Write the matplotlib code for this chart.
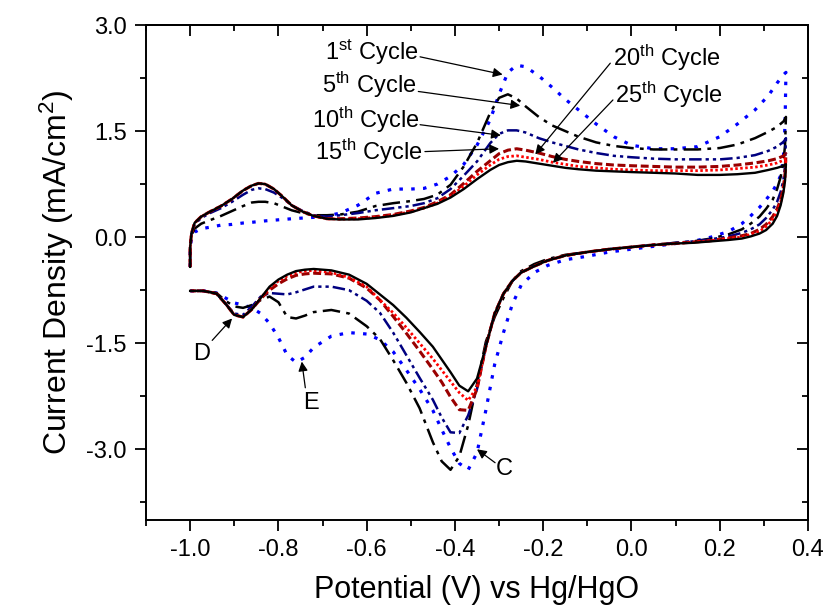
import numpy as np
import matplotlib
matplotlib.use("Agg")
from matplotlib import pyplot as plt
from matplotlib.ticker import MultipleLocator, FormatStrFormatter

plt.rcParams['font.family'] = ['Liberation Sans', 'DejaVu Sans']
plt.rcParams['mathtext.fontset'] = 'custom'
plt.rcParams['mathtext.rm'] = 'Liberation Sans'
plt.rcParams['mathtext.it'] = 'Liberation Sans'
plt.rcParams['axes.unicode_minus'] = False

# anodic sweep (-1.0 -> 0.35 V), shared potential grid
x_up = [-1.0, -1.0, -0.997, -0.99, -0.975, -0.955, -0.93, -0.905, -0.88, -0.86,
        -0.845, -0.83, -0.81, -0.79, -0.77, -0.745, -0.72, -0.69, -0.66, -0.62,
        -0.58, -0.54, -0.50, -0.47, -0.44, -0.41, -0.38, -0.35, -0.32, -0.30,
        -0.28, -0.26, -0.24, -0.21, -0.18, -0.15, -0.12, -0.08, -0.04, 0.0,
        0.05, 0.10, 0.15, 0.20, 0.24, 0.28, 0.31, 0.33, 0.345, 0.35]

up_c1 = [-0.42, -0.2, 0.0, 0.07, 0.12, 0.14, 0.17, 0.18, 0.20, 0.21,
         0.22, 0.23, 0.24, 0.25, 0.26, 0.27, 0.28, 0.30, 0.34, 0.45,
         0.62, 0.68, 0.68, 0.69, 0.75, 0.86, 1.03, 1.30, 1.66, 2.02,
         2.33, 2.43, 2.41, 2.28, 2.12, 1.95, 1.80, 1.60, 1.42, 1.30,
         1.25, 1.25, 1.28, 1.42, 1.60, 1.80, 2.00, 2.18, 2.30, 2.33]
up_c5 = [-0.42, -0.15, 0.02, 0.12, 0.19, 0.24, 0.30, 0.37, 0.44, 0.49,
         0.50, 0.50, 0.48, 0.43, 0.38, 0.34, 0.31, 0.31, 0.32, 0.36,
         0.44, 0.48, 0.51, 0.54, 0.60, 0.74, 1.00, 1.33, 1.76, 1.97,
         2.02, 1.96, 1.85, 1.70, 1.58, 1.50, 1.42, 1.34, 1.29, 1.26,
         1.24, 1.24, 1.24, 1.26, 1.31, 1.40, 1.49, 1.56, 1.64, 1.70]
up_c10 = [-0.42, -0.15, 0.05, 0.18, 0.27, 0.34, 0.41, 0.50, 0.60, 0.67,
          0.69, 0.68, 0.63, 0.55, 0.45, 0.37, 0.31, 0.29, 0.31, 0.34,
          0.38, 0.41, 0.44, 0.48, 0.55, 0.68, 0.87, 1.07, 1.33, 1.46,
          1.51, 1.51, 1.48, 1.40, 1.34, 1.29, 1.24, 1.19, 1.15, 1.13,
          1.11, 1.10, 1.10, 1.10, 1.12, 1.16, 1.22, 1.28, 1.35, 1.40]
up_c15 = [-0.42, -0.15, 0.05, 0.20, 0.29, 0.36, 0.44, 0.54, 0.66, 0.73,
          0.76, 0.75, 0.68, 0.57, 0.45, 0.36, 0.30, 0.26, 0.26, 0.27,
          0.29, 0.32, 0.37, 0.42, 0.50, 0.60, 0.76, 0.93, 1.08, 1.18,
          1.23, 1.25, 1.23, 1.19, 1.14, 1.10, 1.07, 1.04, 1.02, 1.01,
          1.00, 0.99, 0.99, 1.00, 1.02, 1.05, 1.08, 1.11, 1.15, 1.18]
up_c20 = [-0.42, -0.15, 0.05, 0.20, 0.29, 0.36, 0.44, 0.54, 0.66, 0.73,
          0.76, 0.75, 0.68, 0.57, 0.45, 0.36, 0.30, 0.26, 0.255, 0.26,
          0.28, 0.31, 0.36, 0.41, 0.48, 0.58, 0.72, 0.88, 1.02, 1.10,
          1.14, 1.15, 1.13, 1.10, 1.06, 1.03, 1.00, 0.98, 0.96, 0.95,
          0.94, 0.94, 0.94, 0.95, 0.97, 0.99, 1.02, 1.05, 1.09, 1.12]
up_c25 = [-0.42, -0.15, 0.05, 0.20, 0.29, 0.36, 0.44, 0.54, 0.66, 0.73,
          0.76, 0.75, 0.68, 0.57, 0.45, 0.36, 0.30, 0.26, 0.25, 0.25,
          0.27, 0.30, 0.35, 0.41, 0.47, 0.56, 0.68, 0.82, 0.95, 1.02,
          1.06, 1.08, 1.07, 1.04, 1.01, 0.98, 0.96, 0.94, 0.93, 0.92,
          0.91, 0.90, 0.88, 0.88, 0.89, 0.91, 0.95, 0.98, 1.01, 1.03]

# cathodic sweep (0.35 -> -1.0 V)
x_dn = [0.35, 0.348, 0.344, 0.338, 0.33, 0.32, 0.305, 0.29, 0.27, 0.25,
        0.22, 0.18, 0.14, 0.10, 0.05, 0.0, -0.05, -0.10, -0.15, -0.19,
        -0.22, -0.25, -0.27, -0.29, -0.31, -0.33, -0.35, -0.37, -0.39, -0.41,
        -0.43, -0.45, -0.48, -0.51, -0.54, -0.57, -0.60, -0.64, -0.68, -0.72,
        -0.74, -0.76, -0.78, -0.80, -0.82, -0.84, -0.86, -0.88, -0.90, -0.92,
        -0.94, -0.97, -1.0]

dn_c1 = [2.33, 1.60, 1.10, 0.87, 0.76, 0.65, 0.53, 0.42, 0.30, 0.19,
         0.08, 0.00, -0.06, -0.09, -0.13, -0.17, -0.21, -0.27, -0.32, -0.40,
         -0.50, -0.68, -0.95, -1.35, -1.80, -2.45, -3.05, -3.29, -3.20, -2.98,
         -2.72, -2.45, -2.15, -1.88, -1.62, -1.45, -1.37, -1.35, -1.40, -1.56,
         -1.70, -1.77, -1.67, -1.42, -1.22, -1.08, -1.00, -0.96, -0.93, -0.86,
         -0.79, -0.76, -0.76]
dn_c5 = [1.70, 1.30, 1.05, 0.85, 0.68, 0.53, 0.40, 0.29, 0.19, 0.11,
         0.04, -0.02, -0.06, -0.08, -0.11, -0.14, -0.17, -0.21, -0.25, -0.31,
         -0.38, -0.48, -0.62, -0.86, -1.13, -1.48, -2.08, -2.66, -3.10, -3.29,
         -3.17, -2.90, -2.42, -2.06, -1.74, -1.44, -1.26, -1.08, -1.03, -1.06,
         -1.11, -1.15, -1.13, -0.92, -0.84, -0.89, -0.96, -1.00, -0.98, -0.90,
         -0.79, -0.76, -0.76]
dn_c10 = [1.40, 1.00, 0.80, 0.64, 0.50, 0.39, 0.27, 0.18, 0.11, 0.06,
          0.01, -0.03, -0.06, -0.08, -0.11, -0.14, -0.17, -0.21, -0.26, -0.33,
          -0.41, -0.50, -0.62, -0.80, -1.08, -1.55, -2.15, -2.52, -2.77, -2.76,
          -2.55, -2.30, -1.99, -1.67, -1.35, -1.07, -0.90, -0.75, -0.70, -0.70,
          -0.74, -0.78, -0.81, -0.80, -0.79, -0.84, -0.98, -1.10, -1.08, -0.94,
          -0.80, -0.76, -0.76]
dn_c15 = [1.18, 0.90, 0.70, 0.53, 0.40, 0.29, 0.18, 0.11, 0.05, 0.02,
          -0.01, -0.05, -0.07, -0.09, -0.11, -0.14, -0.17, -0.21, -0.26, -0.33,
          -0.41, -0.50, -0.62, -0.80, -1.08, -1.55, -2.15, -2.45, -2.44, -2.26,
          -2.05, -1.87, -1.61, -1.36, -1.12, -0.89, -0.72, -0.58, -0.52, -0.51,
          -0.52, -0.54, -0.59, -0.66, -0.75, -0.87, -1.02, -1.13, -1.10, -0.94,
          -0.80, -0.76, -0.76]
dn_c20 = [1.12, 0.85, 0.66, 0.49, 0.36, 0.25, 0.15, 0.08, 0.04, 0.00,
          -0.02, -0.05, -0.07, -0.09, -0.11, -0.14, -0.17, -0.21, -0.26, -0.33,
          -0.41, -0.50, -0.62, -0.80, -1.08, -1.55, -2.12, -2.31, -2.20, -2.04,
          -1.88, -1.72, -1.50, -1.28, -1.07, -0.89, -0.70, -0.57, -0.50, -0.47,
          -0.48, -0.50, -0.55, -0.62, -0.72, -0.86, -1.02, -1.13, -1.10, -0.94,
          -0.80, -0.76, -0.76]
dn_c25 = [1.03, 0.80, 0.62, 0.45, 0.30, 0.19, 0.10, 0.05, 0.01, -0.02,
          -0.04, -0.06, -0.08, -0.09, -0.11, -0.14, -0.17, -0.21, -0.26, -0.33,
          -0.41, -0.50, -0.62, -0.80, -1.08, -1.55, -2.00, -2.18, -2.10, -1.91,
          -1.73, -1.55, -1.34, -1.14, -0.96, -0.81, -0.66, -0.53, -0.47, -0.45,
          -0.46, -0.48, -0.53, -0.60, -0.70, -0.86, -1.02, -1.13, -1.10, -0.94,
          -0.80, -0.76, -0.76]

cycles = [
    (up_c1, dn_c1, 'blue', (0, (1.1, 2.6)), 2.3),
    (up_c5, dn_c5, 'black', (0, (7, 2.5, 1.5, 2.5)), 1.8),
    (up_c10, dn_c10, '#000080', (0, (5, 1.6, 1.3, 1.6, 1.3, 1.6)), 1.8),
    (up_c15, dn_c15, '#990000', (0, (2.6, 1.2)), 2.2),
    (up_c20, dn_c20, '#ff0000', (0, (0.9, 0.9)), 2.0),
    (up_c25, dn_c25, 'black', '-', 1.7),
]

# annotation labels: text, text position, alignment, arrow tail, arrow tip
cycle_labels = [
    ('1$^{\\rm st}$ Cycle', (-0.483, 2.62), 'right', (-0.479, 2.55), (-0.292, 2.30)),
    ('5$^{\\rm th}$ Cycle', (-0.488, 2.15), 'right', (-0.483, 2.06), (-0.252, 1.86)),
    ('10$^{\\rm th}$ Cycle', (-0.481, 1.66), 'right', (-0.479, 1.59), (-0.296, 1.44)),
    ('15$^{\\rm th}$ Cycle', (-0.474, 1.20), 'right', (-0.468, 1.21), (-0.300, 1.25)),
    ('20$^{\\rm th}$ Cycle', (-0.042, 2.53), 'left', (-0.048, 2.46), (-0.218, 1.17)),
    ('25$^{\\rm th}$ Cycle', (-0.037, 2.01), 'left', (-0.042, 1.94), (-0.178, 1.05)),
]
peak_labels = [
    ('D', (-0.975, -1.65), (-0.950, -1.46), (-0.905, -1.15)),
    ('E', (-0.726, -2.34), (-0.739, -2.13), (-0.747, -1.76)),
    ('C', (-0.289, -3.28), (-0.309, -3.19), (-0.350, -3.00)),
]

fig = plt.figure(figsize=(8.29, 6.14), dpi=100)
ax = fig.add_axes([146 / 829, 1 - 520 / 614, 662 / 829, 495 / 614])

for up, dn, color, ls, lw in cycles:
    xs = x_up + x_dn
    ys = up + dn
    ax.plot(xs, ys, color=color, linestyle=ls, linewidth=lw)

for text, pos, ha, tail, tip in cycle_labels:
    ax.text(pos[0], pos[1], text, fontsize=17, ha=ha, va='center')
    ax.annotate('', xy=tip, xytext=tail,
                arrowprops=dict(arrowstyle='-|>', color='black', lw=0.9,
                                mutation_scale=14, shrinkA=0, shrinkB=0))

for text, pos, tail, tip in peak_labels:
    ax.text(pos[0], pos[1], text, fontsize=17, ha='center', va='center')
    ax.annotate('', xy=tip, xytext=tail,
                arrowprops=dict(arrowstyle='-|>', color='black', lw=0.9,
                                mutation_scale=14, shrinkA=0, shrinkB=0))

ax.set_xlim(-1.1, 0.4)
ax.set_ylim(-4.0, 3.0)
ax.xaxis.set_major_locator(MultipleLocator(0.2))
ax.xaxis.set_minor_locator(MultipleLocator(0.1))
ax.yaxis.set_major_locator(MultipleLocator(1.5))
ax.yaxis.set_minor_locator(MultipleLocator(0.75))
ax.xaxis.set_major_formatter(FormatStrFormatter('%.1f'))
ax.yaxis.set_major_formatter(FormatStrFormatter('%.1f'))
ax.set_xticks([-1.0, -0.8, -0.6, -0.4, -0.2, 0.0, 0.2, 0.4])
ax.tick_params(which='both', direction='out', width=1.3, labelsize=17, pad=6)
ax.tick_params(which='major', length=8)
ax.tick_params(which='minor', length=4)
for sp in ax.spines.values():
    sp.set_linewidth(1.4)

top = ax.secondary_xaxis('top')
top.xaxis.set_major_locator(MultipleLocator(0.2))
top.xaxis.set_minor_locator(MultipleLocator(0.1))
top.tick_params(which='both', direction='in', labeltop=False, width=1.3)
top.tick_params(which='major', length=8)
top.tick_params(which='minor', length=4)
top.spines['top'].set_linewidth(1.4)

right = ax.secondary_yaxis('right')
right.yaxis.set_major_locator(MultipleLocator(1.5))
right.yaxis.set_minor_locator(MultipleLocator(0.75))
right.tick_params(which='both', direction='in', labelright=False, width=1.3)
right.tick_params(which='major', length=8)
right.tick_params(which='minor', length=4)
right.spines['right'].set_linewidth(1.4)

ax.set_xlabel('Potential (V) vs Hg/HgO', fontsize=22, labelpad=10)
ax.set_ylabel('Current Density (mA/cm$^2$)', fontsize=23, labelpad=7)

fig.savefig('out.png', dpi=100)
